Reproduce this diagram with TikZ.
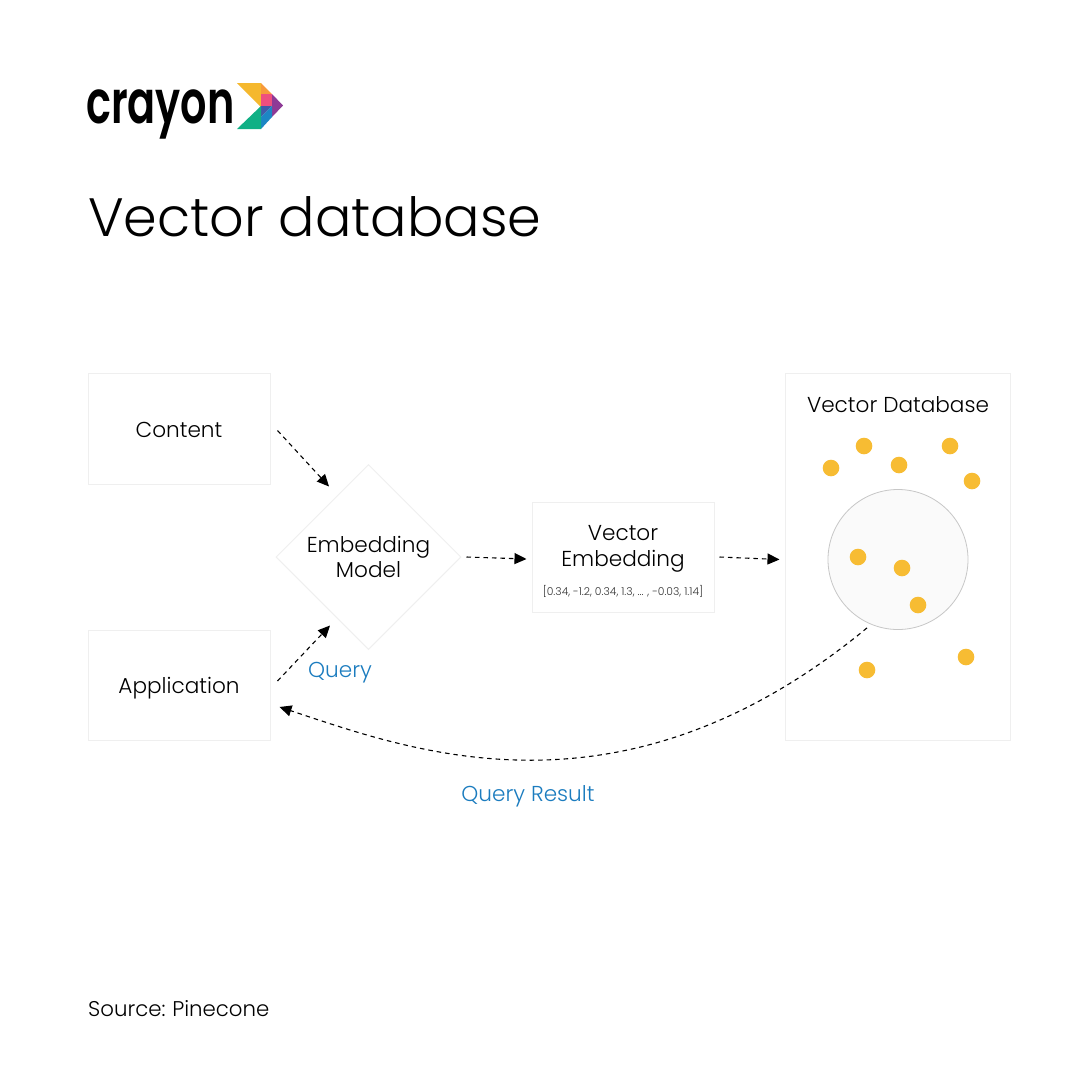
\documentclass[tikz,border=0pt]{standalone}
\usepackage{fontspec}
\setmainfont{Poppins}[UprightFont=* Light,BoldFont=* SemiBold]
\usetikzlibrary{arrows.meta,shapes.geometric}
\definecolor{boxline}{HTML}{EFEFEF}
\definecolor{dotyellow}{HTML}{F7BC33}
\definecolor{queryblue}{HTML}{1B7CBF}
\tikzset{
	box/.style={draw=boxline, line width=1pt, fill=white, inner sep=0pt, font=\fontsize{21.6}{26}\selectfont},
	flow/.style={-{Triangle[length=12pt,width=11pt]}, line width=1.1pt, dash pattern=on 4.5pt off 4pt},
	label/.style={text=queryblue, inner sep=0pt, font=\fontsize{21.6}{26}\selectfont},
	plain/.style={text=black, inner sep=0pt}
}
\begin{document}
\begin{tikzpicture}[x=1pt,y=-1pt]
		%%%%% START %%%%%
		\useasboundingbox[fill=white] (0, 0) rectangle (1080, 1080);
		
		% logo
		\node[plain, anchor=base west, font=\fontsize{60}{60}\bfseries] (wordmark) at (86, 123) {\scalebox{0.69}[1]{crayon}};
		\fill[color={rgb,255:red,245;green,184;blue,46}] (237, 83) -- (261, 83) -- (261, 107) -- cycle;
		\fill[color={rgb,255:red,247;green,154;blue,59}] (261, 83) -- (272, 94) -- (261, 94) -- cycle;
		\fill[color={rgb,255:red,238;green,79;blue,126}] (261, 94) rectangle (272, 106);
		\fill[color={rgb,255:red,142;green,58;blue,150}] (272, 94) -- (283, 105.5) -- (272, 117) -- cycle;
		\fill[color={rgb,255:red,63;green,90;blue,169}] (261, 106) -- (272, 106) -- (261, 117) -- cycle;
		\fill[color={rgb,255:red,28;green,134;blue,196}] (272, 106) -- (272, 117) -- (261, 129) -- (261, 117) -- cycle;
		\fill[color={rgb,255:red,16;green,176;blue,133}] (237, 129) -- (261, 106) -- (261, 129) -- cycle;
		
		\node[plain, anchor=west, font=\fontsize{54}{54}\selectfont] (title) at (88, 217) {Vector database};
		
		% boxes
		\node[box, text height=18pt, text depth=0pt, minimum width=182, minimum height=111] (content) at (179, 428.5) {Content};
		\node[box, text height=17pt, text depth=0pt, minimum width=182, minimum height=110] (application) at (179, 685) {Application};
		\node[box, align=center, diamond, aspect=1, minimum width=185, minimum height=185] (model) at (368.5, 557) {Embedding\\[-1pt]Model};
		\node[box, minimum width=182, minimum height=110] (embedding) at (623, 557) {};
		\node[plain, font=\fontsize{21.6}{26}\selectfont, align=center] (embeddingname) at (623, 549) {Vector\\Embedding};
		\node[plain, font=\fontsize{10.8}{12}\selectfont, text=black!80] (values) at (623, 591) {[0.34, -1.2, 0.34, 1.3, ... , -0.03, 1.14]};
		\node[box, minimum width=225, minimum height=367] (database) at (897.5, 556.5) {};
		\node[plain, font=\fontsize{21.6}{26}\selectfont] (databasename) at (898, 405) {Vector Database};
		
		% matches
		\node[circle, draw=black!22, fill=black!2, line width=0.8pt, minimum size=140, inner sep=0pt] (matches) at (898, 559.5) {};
		
		\foreach \p in {(831,468),(864,446),(899,465),(950,446),(972,481),(858,557),(902,568),(918,605),(867,670),(966,657)} {
			\fill[dotyellow] \p circle (8.3);
		}
		
		% arrows
		\draw[flow] ([shift={(7,2)}]content.east) -- ([shift={(7,-24)}]model.north west);
		\draw[flow] ([shift={(7,-4)}]application.east) -- ([shift={(8,-4)}]model.south west |- application.north);
		\draw[flow] ([xshift=5]model.east) -- ([shift={(-5,2)}]embedding.west);
		\draw[flow] ([xshift=5]embedding.east) -- ([shift={(-5,3)}]database.west);
		\draw[flow] ([shift={(-31,-2)}]matches.south) .. controls (621, 831) and (410, 750) .. ([shift={(9,22)}]application.east);
		
		\node[label] (querylabel) at (340, 673) {Query};
		\node[label] (resultlabel) at (528, 796) {Query Result};
		
		\node[plain, anchor=west, font=\fontsize{21.3}{26}\selectfont] (source) at (88, 1009) {Source:\hspace{-1pt} Pinecone};
		%%%%% END %%%%%
	\end{tikzpicture}
\end{document}
